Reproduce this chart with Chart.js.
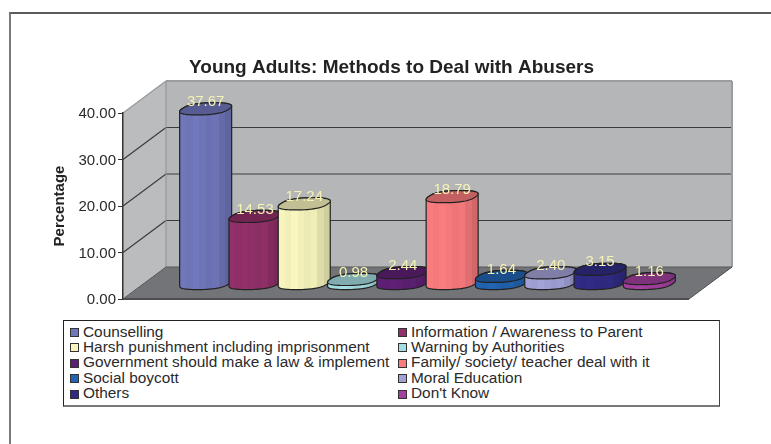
<!DOCTYPE html>
<html>
<head>
<meta charset="utf-8">
<title>Young Adults: Methods to Deal with Abusers</title>
<script src="https://cdn.jsdelivr.net/npm/chart.js@4"></script>
<style>
  body { margin: 0; background: #fff; }
  #page { position: relative; width: 771px; height: 444px; overflow: hidden; font-family: "Liberation Sans", sans-serif; color: #2a2a2a; }
  #page canvas { position: absolute; left: 0; top: 0; }
  #frame { position: absolute; left: 9px; top: 12px; width: 770px; height: 440px; border-top: 2px solid #5c5c5c; border-left: 2px solid #7a7a7a; }
  #legend {
    position: absolute; left: 63px; top: 320px; width: 649px; height: 81.5px; padding: 2.5px 0 0 6px;
    border: 1px solid #222; border-bottom: 2px solid #777; border-right: 1px solid #444; background: #fff;
    display: grid; grid-template-columns: 328px auto; grid-auto-rows: 15.4px; font-size: 15.4px; line-height: 15.4px; white-space: nowrap;
  }
  #legend i { display: inline-block; width: 7px; height: 7px; margin-right: 4px; border: 1px solid #333; vertical-align: -0.5px; }
</style>
</head>
<body>
<div id="page">
  <div id="frame"></div>
  <canvas id="chart" width="771" height="444"></canvas>
  <div id="legend"></div>
</div>
<script>
'use strict';

const titleText = 'Young Adults: Methods to Deal with Abusers';
const axisTitle = 'Percentage';
const categories = ['Counselling', 'Information / Awareness to Parent', 'Harsh punishment including imprisonment',
  'Warning by Authorities', 'Government should make a law & implement', 'Family/ society/ teacher deal with it',
  'Social boycott', 'Moral Education', 'Others', "Don't Know"];
const values = [37.67, 14.53, 17.24, 0.98, 2.44, 18.79, 1.64, 2.40, 3.15, 1.16];
const barColors = ['#7077bb', '#92306a', '#f7f5bd', '#a4dde2', '#5e2074', '#f97b7e', '#2163b0', '#a1a1d6', '#302b84', '#a3409f'];

// oblique offset of the 3d box, and how far the bars sit inside it
const depthX = 43, depthY = 32;
const barShiftX = 21.5, barShiftY = 15;
const facets = [1, 0.98, 1.01, 0.98, 0.95, 0.97, 0.9, 0.84];

function shade(hex, f) {
  let n = parseInt(hex.slice(1), 16);
  let r = Math.min(255, Math.round((n >> 16) * f));
  let g = Math.min(255, Math.round(((n >> 8) & 255) * f));
  let b = Math.min(255, Math.round((n & 255) * f));
  return `rgb(${r},${g},${b})`;
}

function poly(ctx, pts, fill) {
  ctx.beginPath();
  pts.forEach((p, i) => i ? ctx.lineTo(p[0], p[1]) : ctx.moveTo(p[0], p[1]));
  ctx.closePath();
  if (fill) {
    ctx.fillStyle = fill;
    ctx.fill();
  }
}

function line(ctx, x1, y1, x2, y2, color, width) {
  ctx.beginPath();
  ctx.moveTo(x1, y1);
  ctx.lineTo(x2, y2);
  ctx.strokeStyle = color;
  ctx.lineWidth = width;
  ctx.stroke();
}

// walls and floor of the box, grid lines follow the y scale
function drawBox(chart) {
  const ctx = chart.ctx, a = chart.chartArea, y = chart.scales.y;
  ctx.save();
  poly(ctx, [[a.left, a.top], [a.left + depthX, a.top - depthY], [a.left + depthX, a.bottom - depthY], [a.left, a.bottom]], '#bbbcbe');
  poly(ctx, [[a.left + depthX, a.top - depthY], [a.right + depthX, a.top - depthY], [a.right + depthX, a.bottom - depthY], [a.left + depthX, a.bottom - depthY]], '#b5b6b8');
  poly(ctx, [[a.left, a.bottom], [a.left + depthX, a.bottom - depthY], [a.right + depthX, a.bottom - depthY], [a.right, a.bottom]], '#737477');
  y.ticks.forEach(t => {
    if (t.value === 0 || t.value === y.max) return;
    let py = y.getPixelForValue(t.value);
    line(ctx, a.left, py, a.left + depthX, py - depthY, '#3c3c3e', 1.2);
    line(ctx, a.left + depthX, py - depthY, a.right + depthX, py - depthY, '#3c3c3e', 1.2);
  });
  line(ctx, a.left, a.top, a.left + depthX, a.top - depthY, '#9b9c9e', 1.5);
  line(ctx, a.left + depthX, a.top - depthY, a.right + depthX, a.top - depthY, '#9b9c9e', 2);
  line(ctx, a.right + depthX, a.top - depthY, a.right + depthX, a.bottom - depthY, '#9b9c9e', 2);
  line(ctx, a.left + depthX, a.top - depthY, a.left + depthX, a.bottom - depthY, '#909193', 1);
  line(ctx, a.left + depthX, a.bottom - depthY, a.right + depthX, a.bottom - depthY, '#58595b', 1);
  line(ctx, a.left, a.bottom, a.right, a.bottom, '#4c4d4f', 2);
  line(ctx, a.right, a.bottom, a.right + depthX, a.bottom - depthY, '#4c4d4f', 1);
  line(ctx, a.left, a.bottom, a.left + depthX, a.bottom - depthY, '#55565a', 1);
  ctx.restore();
}

// outline of the skewed, slightly squared cap, starting from angle 0 anticlockwise
function capPoints(cx, cy, rx, skew, ry) {
  let pts = [];
  for (let i = 0; i < 96; i++) {
    let t = Math.PI * 2 * i / 96;
    let c = Math.sign(Math.cos(t)) * Math.pow(Math.abs(Math.cos(t)), 0.8);
    let s = Math.sign(Math.sin(t)) * Math.pow(Math.abs(Math.sin(t)), 0.8);
    pts.push([cx + rx * c + skew * s, cy - ry * s]);
  }
  return pts;
}

// skewed cylinder sitting half way into the box, built from the bar element
function drawCylinder(ctx, bar, color) {
  const cx = bar.x + barShiftX;
  const top = bar.y - barShiftY, bottom = bar.base - barShiftY;
  const rx = bar.width / 2 * 0.96;
  const skew = depthX * 0.19, ry = depthY * 0.19;
  const topPts = capPoints(cx, top, rx, skew, ry);
  const basePts = capPoints(cx, bottom, rx, skew, ry);

  let right = 0, left = 0;
  topPts.forEach((p, i) => {
    if (p[0] > topPts[right][0]) right = i;
    if (p[0] < topPts[left][0]) left = i;
  });

  let grad = ctx.createLinearGradient(topPts[left][0], 0, topPts[right][0], 0);
  facets.forEach((f, i) => {
    grad.addColorStop(i / facets.length, shade(color, f));
    grad.addColorStop((i + 1) / facets.length - 0.002, shade(color, f));
  });

  // side: front half of the base, then back up to the top cap
  let side = [];
  for (let i = left; i !== right; i = (i + 1) % 96) side.push(basePts[i]);
  side.push(basePts[right]);
  side.push(topPts[right]);
  for (let i = right; i !== left; i = (i + 1) % 96) side.push(topPts[i]);
  side.push(topPts[left]);

  ctx.save();
  ctx.strokeStyle = '#222';
  ctx.lineWidth = 1.2;
  poly(ctx, side, grad);
  ctx.stroke();
  poly(ctx, topPts, shade(color, 0.78));
  ctx.stroke();
  ctx.restore();
}

const boxPlugin = {
  id: 'box3d',
  afterLayout(chart) {
    // the title is centred on the plot with its walls, not on the axis side
    chart.titleBlock.left += 42;
    chart.titleBlock.right += 42;
  },
  beforeDraw: drawBox,
  beforeDatasetDraw() {
    return false;
  },
  afterDatasetsDraw(chart) {
    const ctx = chart.ctx;
    chart.data.datasets.forEach((ds, i) => {
      drawCylinder(ctx, chart.getDatasetMeta(i).data[0], ds.backgroundColor);
    });
    chart.data.datasets.forEach((ds, i) => {
      let bar = chart.getDatasetMeta(i).data[0];
      ctx.save();
      ctx.font = '15px "Liberation Sans", sans-serif';
      ctx.fillStyle = '#f5f3b4';
      ctx.textAlign = 'center';
      ctx.textBaseline = 'middle';
      ctx.fillText(ds.data[0].toFixed(2), bar.x + barShiftX, bar.y - barShiftY - 7);
      ctx.restore();
    });
  }
};

new Chart(document.getElementById('chart'), {
  type: 'bar',
  data: {
    labels: [''],
    datasets: categories.map((c, i) => ({ label: c, data: [values[i]], backgroundColor: barColors[i] }))
  },
  options: {
    responsive: false,
    animation: false,
    layout: { padding: { left: 10, right: 82, top: 55, bottom: 145 } },
    datasets: { bar: { barPercentage: 1, categoryPercentage: 0.871 } },
    plugins: {
      legend: { display: false },
      tooltip: { enabled: false },
      title: {
        display: true,
        text: titleText,
        color: '#222',
        font: { family: '"Liberation Sans", sans-serif', size: 19, weight: 'bold' },
        padding: { top: 1, bottom: 34.2 }
      }
    },
    scales: {
      x: { display: false },
      y: {
        min: 0,
        max: 40,
        ticks: {
          stepSize: 10,
          padding: 2,
          labelOffset: 1,
          color: '#2a2a2a',
          font: { family: '"Liberation Sans", sans-serif', size: 15 },
          callback: v => v.toFixed(2)
        },
        grid: { drawOnChartArea: false, color: '#333', tickLength: 5 },
        border: { color: '#333', width: 1.5 },
        title: {
          display: true,
          text: axisTitle,
          color: '#222',
          font: { family: '"Liberation Sans", sans-serif', size: 15, weight: 'bold' },
          padding: { top: 41, bottom: 0 }
        },
        afterFit(scale) {
          scale.width = 113;
        }
      }
    }
  },
  plugins: [boxPlugin]
});

let legend = document.getElementById('legend');
categories.forEach((c, i) => {
  let row = document.createElement('div');
  let box = document.createElement('i');
  box.style.background = barColors[i];
  row.appendChild(box);
  row.appendChild(document.createTextNode(c));
  legend.appendChild(row);
});
</script>
</body>
</html>
